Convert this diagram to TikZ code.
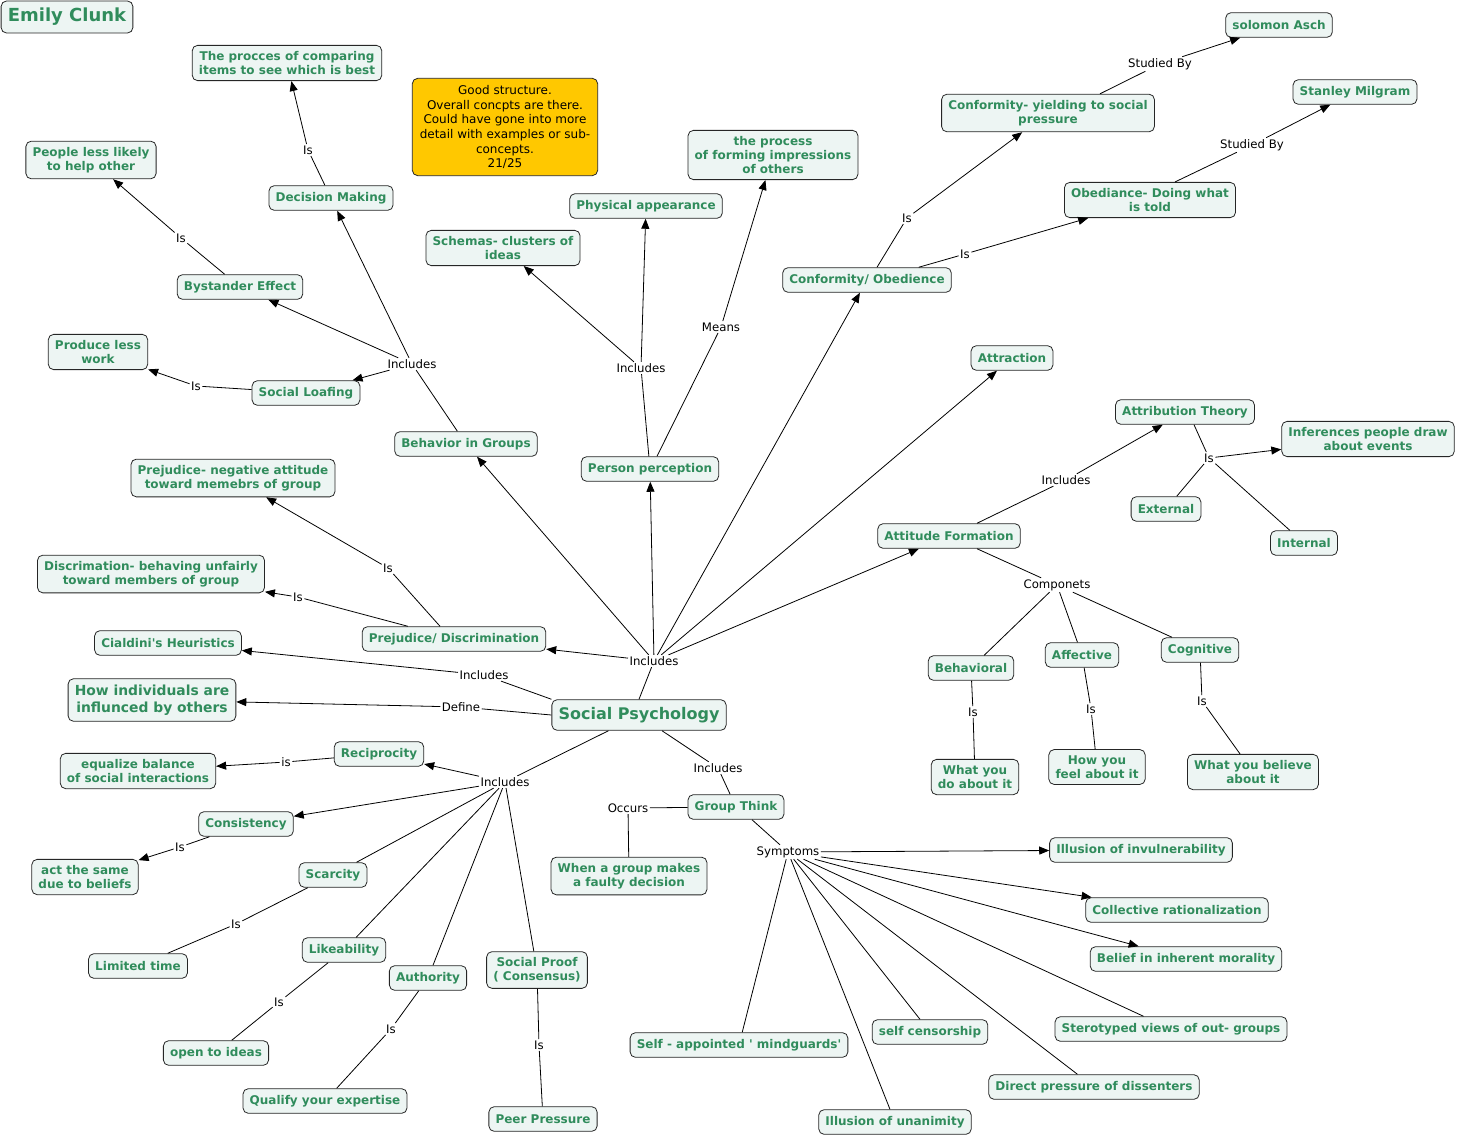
\documentclass[tikz,border=0pt]{standalone}
\usepackage{fontspec}
\setmainfont{DejaVu Sans}
\usetikzlibrary{arrows.meta}

\definecolor{conceptgreen}{RGB}{48,140,92}
\definecolor{conceptfill}{RGB}{237,245,243}
\definecolor{notebox}{RGB}{255,200,0}

\tikzset{
  concept/.style={draw=black!85, line width=0.6pt, rounded corners=4pt, fill=conceptfill,
    text=conceptgreen, font=\fontsize{9}{10.5}\selectfont\bfseries, align=center,
    inner xsep=5pt, inner ysep=4.5pt, minimum height=18.5pt},
  bigconcept/.style={concept, font=\fontsize{12}{14}\selectfont\bfseries, minimum height=23pt},
  linklabel/.style={font=\fontsize{8.8}{10}\selectfont, inner sep=1pt},
  link/.style={line width=0.6pt},
  arr/.style={link, -{Triangle[length=7.5pt,width=6pt]}}
}

\begin{document}
\begin{tikzpicture}[x=0.75pt,y=-0.75pt]
\useasboundingbox (0,0) rectangle (1459,1138);

% Title and grading note
\node[bigconcept, font=\fontsize{13.5}{15}\selectfont\bfseries, minimum height=24pt] (emily) at (67,17) {Emily Clunk};
\node[draw=black!85, line width=0.6pt, rounded corners=4pt, fill=notebox, align=center,
  font=\fontsize{9}{11}\selectfont, minimum width=139pt, minimum height=73pt] (note) at (505,127)
  {Good structure.\\Overall concpts are there.\\Could have gone into more\\detail with examples or sub-\\concepts.\\21/25};

% Concepts
\node[bigconcept] (socpsy) at (639,715) {Social Psychology};
\node[concept, font=\fontsize{10.4}{12.75}\selectfont\bfseries] (howind) at (152,700) {How individuals are\\influnced by others};
\node[concept] (cialdini) at (168,643) {Cialdini\textquotesingle s Heuristics};

\node[concept] (groups) at (466,444) {Behavior in Groups};
\node[concept] (decision) at (331,198) {Decision Making};
\node[concept] (comparing) at (287,63) {The procces of comparing\\items to see which is best};
\node[concept] (bystander) at (240,287) {Bystander Effect};
\node[concept] (lesshelp) at (91,160) {People less likely\\to help other};
\node[concept] (loafing) at (306,393) {Social Loafing};
\node[concept] (lesswork) at (98,352) {Produce less\\work};

\node[concept] (perception) at (650,469) {Person perception};
\node[concept] (schemas) at (503,248) {Schemas- clusters of\\ideas};
\node[concept] (physical) at (646,206) {Physical appearance};
\node[concept] (impressions) at (773,155) {the process\\of forming impressions\\of others};

\node[concept] (conobed) at (867,280) {Conformity/ Obedience};
\node[concept] (conformity) at (1048,113) {Conformity- yielding to social\\pressure};
\node[concept] (asch) at (1279,25) {solomon Asch};
\node[concept] (obedience) at (1150,200) {Obediance- Doing what\\is told};
\node[concept] (milgram) at (1355,92) {Stanley Milgram};

\node[concept] (attraction) at (1012,358) {Attraction};

\node[concept] (attitude) at (949,536) {Attitude Formation};
\node[concept] (attribution) at (1185,412) {Attribution Theory};
\node[concept] (inferences) at (1368,439) {Inferences people draw\\about events};
\node[concept] (external) at (1166,509) {External};
\node[concept] (internal) at (1304,543) {Internal};
\node[concept] (behavioral) at (971,668) {Behavioral};
\node[concept] (affective) at (1082,655) {Affective};
\node[concept] (cognitive) at (1200,650) {Cognitive};
\node[concept] (doabout) at (975,777) {What you\\do about it};
\node[concept] (feelabout) at (1097,767) {How you\\feel about it};
\node[concept] (believeabout) at (1253,772) {What you believe\\about it};

\node[concept] (prejdisc) at (454,639) {Prejudice/ Discrimination};
\node[concept] (prejudice) at (233,478) {Prejudice- negative attitude\\toward memebrs of group};
\node[concept] (discrim) at (151,574) {Discrimation- behaving unfairly\\toward members of group};

\node[concept] (reciprocity) at (379,754) {Reciprocity};
\node[concept] (equalize) at (138,771) {equalize balance\\of social interactions};
\node[concept] (consistency) at (246,824) {Consistency};
\node[concept] (actsame) at (85,877) {act the same\\due to beliefs};
\node[concept] (scarcity) at (333,875) {Scarcity};
\node[concept] (limited) at (138,966) {Limited time};
\node[concept] (likeability) at (344,950) {Likeability};
\node[concept] (openideas) at (216,1053) {open to ideas};
\node[concept] (authority) at (428,978) {Authority};
\node[concept] (expertise) at (325,1101) {Qualify your expertise};
\node[concept] (socproof) at (537,970) {Social Proof\\( Consensus)};
\node[concept] (peer) at (543,1119) {Peer Pressure};

\node[concept] (groupthink) at (736,807) {Group Think};
\node[concept] (faulty) at (629,876) {When a group makes\\a faulty decision};
\node[concept] (invuln) at (1141,850) {Illusion of invulnerability};
\node[concept] (collective) at (1177,910) {Collective rationalization};
\node[concept] (morality) at (1186,959) {Belief in inherent morality};
\node[concept] (stereo) at (1171,1029) {Sterotyped views of out- groups};
\node[concept] (censor) at (930,1032) {self censorship};
\node[concept] (mindguards) at (739,1045) {Self - appointed \textquotesingle\ mindguards\textquotesingle};
\node[concept] (dissent) at (1094,1087) {Direct pressure of dissenters};
\node[concept] (unanimity) at (895,1122) {Illusion of unanimity};

% Link labels
\node[linklabel] (linclTop) at (654,661) {Includes};
\node[linklabel] (linclCial) at (484,675) {Includes};
\node[linklabel] (ldefine) at (461,707) {Define};
\node[linklabel] (linclLow) at (505,782) {Includes};
\node[linklabel] (linclGT) at (718,768) {Includes};
\node[linklabel] (linclGroups) at (412,364) {Includes};
\node[linklabel] (lisDec) at (308,150) {Is};
\node[linklabel] (lisBys) at (181,238) {Is};
\node[linklabel] (lisLoaf) at (196,386) {Is};
\node[linklabel] (linclPerc) at (641,368) {Includes};
\node[linklabel] (lmeans) at (721,327) {Means};
\node[linklabel] (lisConf) at (907,218) {Is};
\node[linklabel] (lisObed) at (965,254) {Is};
\node[linklabel] (lstudAsch) at (1160,64) {Studied By};
\node[linklabel] (lstudMil) at (1252,145) {Studied By};
\node[linklabel] (linclAtt) at (1066,480) {Includes};
\node[linklabel] (lisAttr) at (1209,458) {Is};
\node[linklabel] (lcomp) at (1057,585) {Componets};
\node[linklabel] (lisBeh) at (973,712) {Is};
\node[linklabel] (lisAff) at (1091,709) {Is};
\node[linklabel] (lisCog) at (1202,701) {Is};
\node[linklabel] (lisPrej) at (388,568) {Is};
\node[linklabel] (lisDisc) at (298,597) {Is};
\node[linklabel] (lisRecip) at (286,762) {is};
\node[linklabel] (lisCons) at (180,847) {Is};
\node[linklabel] (lisScar) at (236,924) {Is};
\node[linklabel] (lisLike) at (279,1002) {Is};
\node[linklabel] (lisAuth) at (391,1029) {Is};
\node[linklabel] (lisProof) at (539,1045) {Is};
\node[linklabel] (loccurs) at (628,808) {Occurs};
\node[linklabel] (lsymptoms) at (788,852) {Symptoms};

% Social Psychology branches
\draw[link] (socpsy.north) -- (linclTop);
\foreach \t in {groups,perception,conobed,attraction,attitude,prejdisc}
  \draw[arr] (linclTop) -- (\t);
\draw[link] (socpsy.north west) -- (linclCial);
\draw[arr] (linclCial) -- (cialdini);
\draw[link] (socpsy.west) -- (ldefine);
\draw[arr] (ldefine) -- (howind);
\draw[link] (socpsy.south west) ++(57,0) -- (linclLow);
\draw[arr] (linclLow) -- (reciprocity);
\draw[arr] (linclLow) -- (consistency);
\foreach \t in {scarcity,likeability,authority,socproof}
  \draw[link] (linclLow) -- (\t);
\draw[link] (socpsy.south) ++(23,0) -- (linclGT);
\draw[link] (linclGT) -- (groupthink);

% Behavior in groups
\draw[link] (groups) -- (linclGroups);
\foreach \t in {decision,bystander,loafing}
  \draw[arr] (linclGroups) -- (\t);
\draw[link] (decision) -- (lisDec);
\draw[arr] (lisDec) -- (comparing);
\draw[link] (bystander) -- (lisBys);
\draw[arr] (lisBys) -- (lesshelp);
\draw[link] (loafing) -- (lisLoaf);
\draw[arr] (lisLoaf) -- (lesswork);

% Person perception
\draw[link] (perception) -- (linclPerc);
\draw[arr] (linclPerc) -- (schemas);
\draw[arr] (linclPerc) -- (physical);
\draw[link] (perception.north) ++(7,0) -- (lmeans);
\draw[arr] (lmeans) -- (impressions);

% Conformity and obedience
\draw[link] (conobed.north) ++(10,0) -- (lisConf);
\draw[arr] (lisConf) -- (conformity);
\draw[link] (conobed.north east) ++(-33,0) -- (lisObed);
\draw[arr] (lisObed) -- (obedience);
\draw[link] (conformity.north) ++(52,0) -- (lstudAsch);
\draw[arr] (lstudAsch) -- (asch);
\draw[link] (obedience.north) ++(25,0) -- (lstudMil);
\draw[arr] (lstudMil) -- (milgram);

% Attitude formation
\draw[link] (attitude.north) ++(28,0) -- (linclAtt);
\draw[arr] (linclAtt) -- (attribution);
\draw[link] (attribution.south) ++(9,0) -- (lisAttr);
\draw[arr] (lisAttr) -- (inferences);
\draw[link] (lisAttr) -- (external);
\draw[link] (lisAttr) -- (internal);
\draw[link] (attitude.south) ++(28,0) -- (lcomp);
\foreach \t in {behavioral,affective,cognitive}
  \draw[link] (lcomp) -- (\t);
\draw[link] (behavioral) -- (lisBeh);
\draw[link] (lisBeh) -- (doabout);
\draw[link] (affective) -- (lisAff);
\draw[link] (lisAff) -- (feelabout);
\draw[link] (cognitive) -- (lisCog);
\draw[link] (lisCog) -- (believeabout);

% Prejudice
\draw[link] (prejdisc.north) ++(-14,0) -- (lisPrej);
\draw[arr] (lisPrej) -- (prejudice);
\draw[link] (prejdisc.north west) ++(46,0) -- (lisDisc);
\draw[arr] (lisDisc) -- (discrim);

% Cialdini's heuristics
\draw[link] (reciprocity) -- (lisRecip);
\draw[arr] (lisRecip) -- (equalize);
\draw[link] (consistency) -- (lisCons);
\draw[arr] (lisCons) -- (actsame);
\draw[link] (scarcity) -- (lisScar);
\draw[link] (lisScar) -- (limited);
\draw[link] (likeability) -- (lisLike);
\draw[link] (lisLike) -- (openideas);
\draw[link] (authority) -- (lisAuth);
\draw[link] (lisAuth) -- (expertise);
\draw[link] (socproof) -- (lisProof);
\draw[link] (lisProof) -- (peer);

% Group think
\draw[link] (groupthink) -- (loccurs);
\draw[link] (loccurs) -- (faulty);
\draw[link] (groupthink.south) ++(16,0) -- (lsymptoms);
\foreach \t in {invuln,collective,morality}
  \draw[arr] (lsymptoms) -- (\t);
\foreach \t in {stereo,censor,mindguards,dissent,unanimity}
  \draw[link] (lsymptoms) -- (\t);

\end{tikzpicture}
\end{document}
